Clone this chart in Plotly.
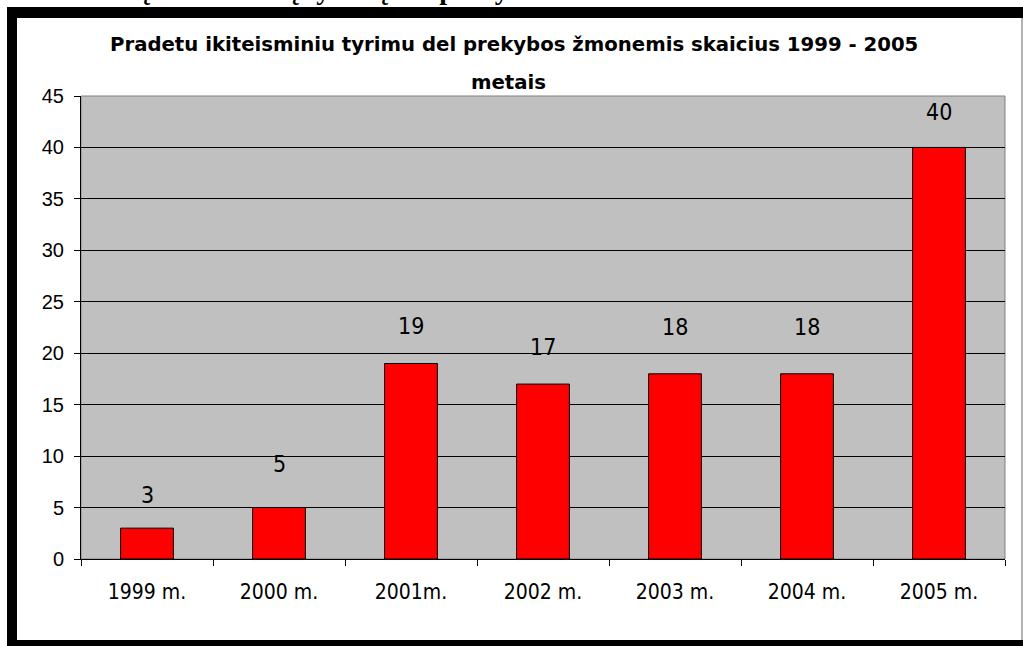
import plotly.graph_objects as go

categories = ["1999 m.", "2000 m.", "2001m.", "2002 m.", "2003 m.", "2004 m.", "2005 m."]
values = [3, 5, 19, 17, 18, 18, 40]
y_ticks = [0, 5, 10, 15, 20, 25, 30, 35, 40, 45]
title_line1 = "Pradetu ikiteisminiu tyrimu del prekybos žmonemis skaicius 1999 - 2005"
title_line2 = "metais"
page_text = "Pradėtų ikiteisminių tyrimų dėl prekybos žmonėmis skaičius"

# styling (pixel offsets of value labels above bar tops, as in the picture)
label_shift = [33, 44, 38, 37, 47, 47, 35]

W, H = 1023, 646
L, R, T, B = 81, 1005, 96, 559
pw, ph = R - L, B - T

def px(x):
    return (x - L) / pw

def py(y):
    return (B - y) / ph

narrow = "Liberation Sans Narrow, DejaVu Sans Condensed, Liberation Sans, Arial, sans-serif"
sans = "Liberation Sans, Arial, sans-serif"
title_font = "DejaVu Sans, Verdana, sans-serif"

fig = go.Figure(go.Bar(
    x=categories, y=values,
    marker=dict(color="#FF0000", line=dict(color="#000000", width=1)),
    width=0.4,
    hoverinfo="x+y",
))

annotations = []
for c, v, s in zip(categories, values, label_shift):
    annotations.append(dict(x=c, y=v, xref="x", yref="y", text=str(v), showarrow=False,
                            yshift=s, font=dict(family=narrow, size=23, color="#000"),
                            xanchor="center", yanchor="middle"))

annotations.append(dict(x=px(514), y=py(45), xref="paper", yref="paper", text="<b>" + title_line1 + "</b>",
                        showarrow=False, font=dict(family=title_font, size=19.7, color="#000"),
                        xanchor="center", yanchor="middle"))
annotations.append(dict(x=px(508), y=py(82), xref="paper", yref="paper", text="<b>" + title_line2 + "</b>",
                        showarrow=False, font=dict(family=title_font, size=19.7, color="#000"),
                        xanchor="center", yanchor="middle"))
annotations.append(dict(x=px(54), y=py(6), xref="paper", yref="paper", text="<b>" + page_text + "</b>",
                        showarrow=False, font=dict(family="Liberation Serif, Times New Roman, serif", size=28, color="#000"),
                        xanchor="left", yanchor="bottom", borderpad=0))

shapes = [
    # page frame
    dict(type="rect", xref="paper", yref="paper", x0=px(7), x1=px(1024), y0=py(18), y1=py(7),
         fillcolor="#000", line=dict(width=0), layer="above"),
    dict(type="rect", xref="paper", yref="paper", x0=px(7), x1=px(17), y0=py(647), y1=py(7),
         fillcolor="#000", line=dict(width=0), layer="above"),
    dict(type="rect", xref="paper", yref="paper", x0=px(7), x1=px(1024), y0=py(647), y1=py(640),
         fillcolor="#000", line=dict(width=0), layer="above"),
    dict(type="line", xref="paper", yref="paper", x0=px(1022), x1=px(1022), y0=py(640), y1=py(18),
         line=dict(color="#999999", width=1.5), layer="above"),
    # plot area border
    dict(type="rect", xref="paper", yref="paper", x0=0, x1=1, y0=0, y1=1,
         line=dict(color="#808080", width=1), layer="below"),
]

fig.update_layout(
    width=W, height=H,
    margin=dict(l=L, r=W - R, t=T, b=H - B, pad=0),
    paper_bgcolor="#FFFFFF",
    plot_bgcolor="#C0C0C0",
    showlegend=False,
    annotations=annotations,
    shapes=shapes,
    bargap=0.6,
)
fig.update_yaxes(
    range=[0, 45], tickvals=y_ticks, ticktext=[str(t) for t in y_ticks],
    showgrid=True, gridcolor="#000000", gridwidth=1,
    showline=True, linecolor="#000000", linewidth=1,
    ticks="outside", ticklen=6, tickcolor="#000000",
    tickfont=dict(family=sans, size=20, color="#000"),
    ticklabelstandoff=6,
    zeroline=False, fixedrange=True,
)
fig.update_xaxes(
    showgrid=False, showline=True, linecolor="#000000", linewidth=1,
    ticks="outside", ticklen=6, tickcolor="#000000", tickson="boundaries",
    tickfont=dict(family=narrow, size=21, color="#000"),
    ticklabelstandoff=14,
    fixedrange=True,
)

fig.write_html("out.html", config={"displayModeBar": False},
               post_script="document.body.style.margin='0';document.body.style.padding='0';")
